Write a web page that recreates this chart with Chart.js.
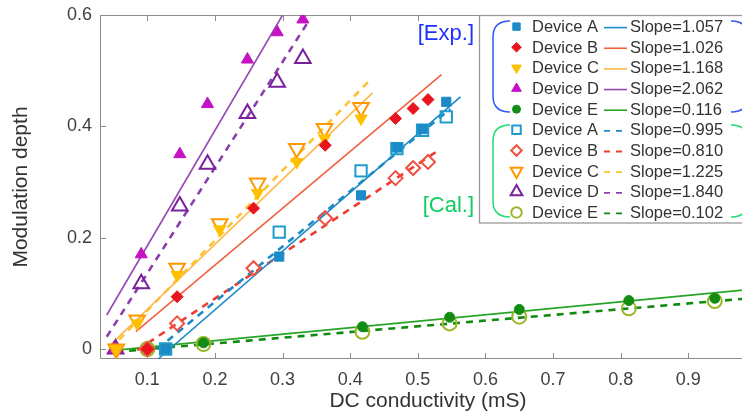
<!DOCTYPE html>
<html>
<head>
<meta charset="utf-8">
<script src="https://cdn.jsdelivr.net/npm/chart.js@4.4.1/dist/chart.umd.min.js"></script>
<style>
    html, body { margin: 0; padding: 0; background: #fff; overflow: hidden; }
    #wrap { width: 742px; height: 413px; overflow: hidden; }
</style>
</head>
<body>
<div id="wrap"><canvas id="chart" width="767" height="413"></canvas></div>
<script>
// Tick labels
const xTicks = [0.1, 0.2, 0.3, 0.4, 0.5, 0.6, 0.7, 0.8, 0.9];
const yTicks = [0, 0.2, 0.4, 0.6];

// Legend text
const devices = ['Device A', 'Device B', 'Device C', 'Device D', 'Device E'];
const slopeExp = ['1.057', '1.026', '1.168', '2.062', '0.116'];
const slopeCal = ['0.995', '0.810', '1.225', '1.840', '0.102'];

// Measured points (x = DC conductivity in mS)
const xA = [0.127, 0.295, 0.416, 0.469, 0.507, 0.542];
const expA = [0.0, 0.166, 0.276, 0.362, 0.395, 0.444];
const calA = [0.0, 0.21, 0.32, 0.36, 0.393, 0.417];

const xB = [0.1, 0.144, 0.257, 0.363, 0.467, 0.493, 0.515];
const expB = [0.0, 0.094, 0.253, 0.366, 0.414, 0.432, 0.448];
const calB = [0.0, 0.046, 0.145, 0.235, 0.307, 0.325, 0.336];

const xC = [0.054, 0.085, 0.144, 0.207, 0.263, 0.321, 0.362, 0.416];
const expC = [0.0, 0.046, 0.133, 0.215, 0.28, 0.336, 0.378, 0.414];
const calC = [0.0, 0.052, 0.145, 0.225, 0.298, 0.36, 0.396, 0.434];

const xD = [0.053, 0.091, 0.148, 0.189, 0.248, 0.292, 0.33];
const expD = [0.0, 0.17, 0.35, 0.44, 0.52, 0.569, 0.592];
const calD = [0.0, 0.117, 0.257, 0.332, 0.423, 0.479, 0.522];

const xE = [0.1, 0.183, 0.418, 0.547, 0.65, 0.812, 0.939];
const expE = [0.0, 0.011, 0.04, 0.057, 0.071, 0.087, 0.091];
const calE = [0.0, 0.009, 0.031, 0.046, 0.058, 0.073, 0.086];

// Fitted lines, end points
const fitExpX = [[0.116, 0.563], [0.083, 0.535], [0.045, 0.433], [0.04, 0.3], [0.054, 1.0]];
const fitExpY = [[-0.018, 0.453], [0.031, 0.493], [0.007, 0.46], [0.061, 0.6], [-0.002, 0.108]];
const fitCalX = [[0.115, 0.548], [0.085, 0.527], [0.045, 0.429], [0.04, 0.339], [0.054, 1.0]];
const fitCalY = [[0.0, 0.431], [-0.002, 0.354], [0.0, 0.483], [0.022, 0.59], [-0.005, 0.092]];

// styles
const expColor = ['#1b8ac6', '#e8141e', '#ffc000', '#c412c4', '#138c13'];
const expLine = ['#1b8ac6', '#f2603e', '#ffb84a', '#9448b4', '#28a428'];
const calColor = ['#1e9ccc', '#f05040', '#ff9800', '#7a1f9c', '#9ab82a'];
const calLine = ['#1b8ac6', '#f03c30', '#ffc232', '#8a40ac', '#108a10'];
const shapes = ['rect', 'rectRot', 'triangle', 'triangle', 'circle'];
const turns = [0, 0, 180, 0, 0];
const expSize = [6.5, 6, 7, 7, 5];
const calSize = [8, 7, 9, 9, 7];

const FONT = '"Liberation Sans", Arial, Helvetica, sans-serif';

const pointsX = [xA, xB, xC, xD, xE];
const pointsExp = [expA, expB, expC, expD, expE];
const pointsCal = [calA, calB, calC, calD, calE];

function zip(xs, ys) {
    return xs.map((x, i) => ({ x: x, y: ys[i] }));
}

const datasets = [];
devices.forEach((name, i) => {
    datasets.push({
        label: name + ' exp',
        data: zip(pointsX[i], pointsExp[i]),
        showLine: false,
        pointStyle: shapes[i],
        rotation: turns[i],
        pointRadius: expSize[i],
        backgroundColor: expColor[i],
        borderColor: expColor[i],
        borderWidth: 1,
        order: 0
    });
    datasets.push({
        label: name + ' cal',
        data: zip(pointsX[i], pointsCal[i]),
        showLine: false,
        pointStyle: shapes[i],
        rotation: turns[i],
        pointRadius: calSize[i],
        backgroundColor: 'rgba(0,0,0,0)',
        borderColor: calColor[i],
        borderWidth: 2,
        order: 0
    });
    datasets.push({
        label: name + ' fit exp',
        data: zip(fitExpX[i], fitExpY[i]),
        showLine: true,
        pointRadius: 0,
        borderColor: expLine[i],
        borderWidth: 1.6,
        order: 1
    });
    datasets.push({
        label: name + ' fit cal',
        data: zip(fitCalX[i], fitCalY[i]),
        showLine: true,
        pointRadius: 0,
        borderColor: calLine[i],
        borderWidth: 2.6,
        borderDash: [7, 6],
        order: 1
    });
});

function marker(ctx, style, rot, r, fill, stroke, bw, x, y) {
    ctx.save();
    ctx.fillStyle = fill;
    ctx.strokeStyle = stroke;
    ctx.lineWidth = bw;
    Chart.helpers.drawPoint(ctx, { pointStyle: style, rotation: rot, radius: r, borderWidth: bw }, x, y);
    ctx.restore();
}

function bracket(ctx, color, top, bottom) {
    ctx.save();
    ctx.strokeStyle = color;
    ctx.lineWidth = 1.5;
    ctx.beginPath();
    ctx.moveTo(510, top);
    ctx.quadraticCurveTo(493, top, 493, top + 16);
    ctx.lineTo(493, bottom - 16);
    ctx.quadraticCurveTo(493, bottom, 510, bottom);
    ctx.moveTo(731, top);
    ctx.quadraticCurveTo(748, top, 748, top + 16);
    ctx.lineTo(748, bottom - 16);
    ctx.quadraticCurveTo(748, bottom, 731, bottom);
    ctx.stroke();
    ctx.restore();
}

const framePlugin = {
    id: 'frame',
    beforeDatasetsDraw(chart) {
        const { ctx, chartArea: a, scales: { x, y } } = chart;
        ctx.save();
        ctx.strokeStyle = '#8c8c8c';
        ctx.lineWidth = 1;
        ctx.beginPath();
        ctx.moveTo(a.right, a.top + 0.5);
        ctx.lineTo(a.left + 0.5, a.top + 0.5);
        ctx.lineTo(a.left + 0.5, a.bottom - 0.5);
        ctx.lineTo(a.right, a.bottom - 0.5);
        xTicks.forEach(v => {
            const px = Math.round(x.getPixelForValue(v)) + 0.5;
            ctx.moveTo(px, a.bottom); ctx.lineTo(px, a.bottom - 6);
            ctx.moveTo(px, a.top); ctx.lineTo(px, a.top + 6);
        });
        yTicks.forEach(v => {
            const py = Math.round(y.getPixelForValue(v)) + 0.5;
            ctx.moveTo(a.left, py); ctx.lineTo(a.left + 6, py);
        });
        ctx.stroke();
        ctx.restore();
    },
    afterDraw(chart) {
        const ctx = chart.ctx;
        // legend box
        ctx.save();
        ctx.fillStyle = '#fff';
        ctx.strokeStyle = '#9a9a9a';
        ctx.lineWidth = 1.3;
        ctx.fillRect(479, 15, 290, 208);
        ctx.strokeRect(479.5, 15.5, 290, 207.5);

        ctx.font = '16.5px ' + FONT;
        ctx.textBaseline = 'middle';
        ctx.textAlign = 'left';
        devices.forEach((name, i) => {
            const yE = 26.6 + 20.65 * i;
            const yC = 26.6 + 20.65 * (i + 5);
            marker(ctx, shapes[i], turns[i], expSize[i] * 0.8, expColor[i], expColor[i], 1, 516.5, yE);
            marker(ctx, shapes[i], turns[i], calSize[i] * 0.75, 'rgba(0,0,0,0)', calColor[i], 2, 516.5, yC);
            ctx.fillStyle = '#333';
            ctx.fillText(name, 532, yE + 1);
            ctx.fillText(name, 532, yC + 1);
            ctx.fillText('Slope=' + slopeExp[i], 630, yE + 1);
            ctx.fillText('Slope=' + slopeCal[i], 630, yC + 1);

            ctx.lineWidth = 1.6;
            ctx.strokeStyle = expLine[i];
            ctx.setLineDash([]);
            ctx.beginPath(); ctx.moveTo(604, yE + 1); ctx.lineTo(627, yE + 1); ctx.stroke();
            ctx.lineWidth = 1.8;
            ctx.strokeStyle = calLine[i];
            ctx.setLineDash([6, 6]);
            ctx.beginPath(); ctx.moveTo(604, yC + 1); ctx.lineTo(623, yC + 1); ctx.stroke();
            ctx.setLineDash([]);
        });

        bracket(ctx, '#3358f5', 21, 112);
        bracket(ctx, '#22dd77', 125, 217);

        ctx.font = '22px ' + FONT;
        ctx.textAlign = 'right';
        ctx.fillStyle = '#1e32ff';
        ctx.fillText('[Exp.]', 474, 34);
        ctx.fillStyle = '#12cc62';
        ctx.fillText('[Cal.]', 474, 206);
        ctx.restore();
    }
};

new Chart(document.getElementById('chart'), {
    type: 'scatter',
    data: { datasets: datasets },
    plugins: [framePlugin],
    options: {
        responsive: false,
        animation: false,
        layout: { padding: { top: 15, right: 0, left: 0, bottom: 0 } },
        plugins: {
            legend: { display: false },
            tooltip: { enabled: false }
        },
        scales: {
            x: {
                type: 'linear',
                min: 0.03,
                max: 1.0,
                border: { display: false },
                grid: { display: false },
                afterBuildTicks: s => { s.ticks = xTicks.map(v => ({ value: v })); },
                afterFit: s => { s.height = 54; },
                ticks: {
                    font: { size: 18, family: FONT },
                    color: '#404040',
                    padding: 2,
                    maxRotation: 0,
                    autoSkip: false,
                    callback: v => String(v)
                },
                title: {
                    display: true,
                    text: 'DC conductivity (mS)',
                    color: '#333',
                    font: { size: 21, family: FONT, lineHeight: 1 },
                    padding: { top: 0, bottom: 1 }
                }
            },
            y: {
                type: 'linear',
                min: -0.018,
                max: 0.6,
                border: { display: false },
                grid: { display: false },
                afterBuildTicks: s => { s.ticks = yTicks.map(v => ({ value: v })); },
                afterFit: s => { s.width = 100; },
                ticks: {
                    font: { size: 18, family: FONT },
                    color: '#404040',
                    padding: 0,
                    autoSkip: false,
                    callback: v => String(v)
                },
                title: {
                    display: true,
                    text: 'Modulation depth',
                    color: '#333',
                    font: { size: 21, family: FONT, lineHeight: 1 },
                    padding: { top: 11, bottom: 0 }
                }
            }
        }
    }
});
</script>
</body>
</html>
